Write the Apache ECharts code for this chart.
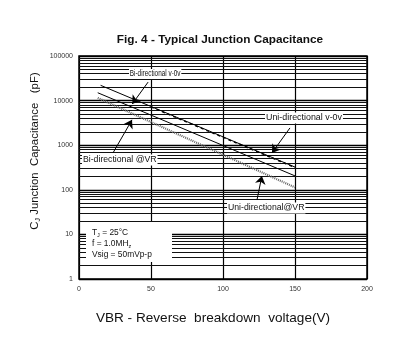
<!DOCTYPE html>
<html><head><meta charset="utf-8">
<script src="https://cdn.jsdelivr.net/npm/echarts@6/dist/echarts.min.js"></script>
<style>html,body{margin:0;padding:0;background:#fff}#c{width:408px;height:354px}</style>
</head><body><div id="c"></div>
<script>
// ---- data ----
const voltages = [13, 15, 50, 100, 150];
const biV0 = [null, 22000, 7380, 1540, 323];     // Bi-directional v-0v (pF)
const uniV0 = [null, null, 7200, 1500, 315];     // Uni-directional v-0v (pF)
const biVR = [15000, null, 4730, 985, 205];      // Bi-directional @VR (pF)
const uniVR = [11500, null, 3310, 612, 113];     // Uni-directional @VR (pF)
const xTicks = [0, 50, 100, 150, 200];
const yTicks = [1, 10, 100, 1000, 10000, 100000];
const minorGrid = [];
for (let d = 1; d < 100000; d *= 10) for (let m = 2; m <= 9; m++) minorGrid.push(m * d);

const FONT = 'Liberation Sans, Arial, sans-serif';
function pairs(arr) { const o = []; arr.forEach((v, i) => { if (v != null) o.push([voltages[i], v]); }); return o; }

const chart = echarts.init(document.getElementById('c'), null, {renderer: 'canvas'});
const gl = 79, gt = 56, gw = 288, gh = 223;

function arrow(x1, y1, x2, y2) {
  return [{coord: [x1, y1], symbol: 'none'}, {coord: [x2, y2], symbol: 'arrow'}];
}
function lbl(x, y, text, size, sx) {
  return {type: 'text', z: 60, x: x, y: y, scaleX: sx || 1,
    style: {text: text, fontFamily: FONT, fontSize: size, fill: '#111', backgroundColor: '#fff', padding: [1, 1], verticalAlign: 'middle'}};
}

chart.setOption({
  animation: false,
  backgroundColor: '#fff',
  grid: {left: gl, top: gt, width: gw, height: gh, show: true, borderColor: '#000', borderWidth: 1.5, backgroundColor: 'transparent'},
  xAxis: {
    type: 'value', min: 0, max: 200, interval: 50,
    axisLine: {show: false}, axisTick: {show: false},
    axisLabel: {fontFamily: FONT, fontSize: 7, color: '#333', margin: 7,
      formatter: v => xTicks.includes(v) ? String(v) : ''},
    splitLine: {show: true, lineStyle: {color: '#000', width: 1.2}}
  },
  yAxis: {
    type: 'log', min: 1, max: 100000, logBase: 10,
    axisLine: {show: false}, axisTick: {show: false},
    axisLabel: {fontFamily: FONT, fontSize: 7, color: '#333', margin: 6,
      formatter: v => yTicks.includes(Math.round(v)) ? String(Math.round(v)) : ''},
    splitLine: {show: true, lineStyle: {color: '#000', width: 1.4}}
  },
  series: [
    {
      type: 'line', data: [], silent: true,
      markLine: {silent: true, symbol: 'none', label: {show: false},
        lineStyle: {color: '#111', width: 1, type: 'solid'},
        data: minorGrid.map(v => ({yAxis: v}))}, z: 1
    },
    {type: 'line', name: 'Bi-directional v-0v', data: pairs(biV0), showSymbol: false, z: 5,
      lineStyle: {color: '#000', width: 1}},
    {type: 'line', name: 'Uni-directional v-0v', data: pairs(uniV0), showSymbol: false, z: 5,
      lineStyle: {color: '#000', width: 1.4, type: [3, 3]}},
    {type: 'line', name: 'Bi-directional @VR', data: pairs(biVR), showSymbol: false, z: 5,
      lineStyle: {color: '#000', width: 1}},
    {type: 'line', name: 'Uni-directional @VR', data: pairs(uniVR), showSymbol: false, z: 5,
      lineStyle: {color: '#666', width: 2.2, type: [1, 1]}},
    {
      type: 'line', data: [], silent: true, z: 6,
      markLine: {silent: true, symbolSize: 8, label: {show: false},
        lineStyle: {color: '#000', width: 1, type: 'solid'},
        data: [
          arrow(48, 26000, 37, 8400),
          arrow(23.6, 670, 36.8, 3700),
          arrow(146.5, 2440, 134, 670),
          arrow(123.6, 59, 127, 204)
        ]}
    }
  ],
  graphic: [
    {type: 'text', z: 60, x: 220, y: 40, style: {text: 'Fig. 4 - Typical Junction Capacitance', fontFamily: FONT, fontSize: 11.8, fontWeight: 'bold', fill: '#111', align: 'center', verticalAlign: 'middle'}},
    {type: 'rect', z: 50, shape: {x: 86, y: 222, width: 86, height: 40}, style: {fill: '#fff'}},
    {type: 'text', z: 60, x: 92, y: 233, style: {text: '{a|T}{s|J}{a| = 25°C}', rich: {a: {fontFamily: FONT, fontSize: 8.4, fill: '#111'}, s: {fontFamily: FONT, fontSize: 5.5, fill: '#111', padding: [5, 0, 0, 0]}}, verticalAlign: 'middle'}},
    {type: 'text', z: 60, x: 92, y: 244, style: {text: '{a|f = 1.0MH}{s|z}', rich: {a: {fontFamily: FONT, fontSize: 8.4, fill: '#111'}, s: {fontFamily: FONT, fontSize: 5.5, fill: '#111', padding: [5, 0, 0, 0]}}, verticalAlign: 'middle'}},
    {type: 'text', z: 60, x: 92, y: 255, style: {text: 'Vsig = 50mVp-p', fontFamily: FONT, fontSize: 8.4, fill: '#111', verticalAlign: 'middle'}},
    lbl(129, 74, 'Bi-directional v-0v', 8.2, 0.78),
    lbl(82, 160, 'Bi-directional @VR', 8.7),
    lbl(265, 118, 'Uni-directional v-0v', 8.9),
    lbl(227, 208, 'Uni-directional@VR', 8.7),
    {type: 'text', z: 60, x: 213, y: 318, style: {text: 'VBR - Reverse  breakdown  voltage(V)', fontFamily: FONT, fontSize: 13.6, fill: '#111', align: 'center', verticalAlign: 'middle'}},
    {type: 'text', z: 60, x: 35, y: 151, rotation: Math.PI / 2, style: {text: '{a|C}{s|J}{a| Junction  Capacitance   (pF)}', rich: {a: {fontFamily: FONT, fontSize: 11.4, fill: '#111'}, s: {fontFamily: FONT, fontSize: 7, fill: '#111', padding: [6, 0, 0, 0]}}, align: 'center', verticalAlign: 'middle'}}
  ]
});
</script></body></html>
